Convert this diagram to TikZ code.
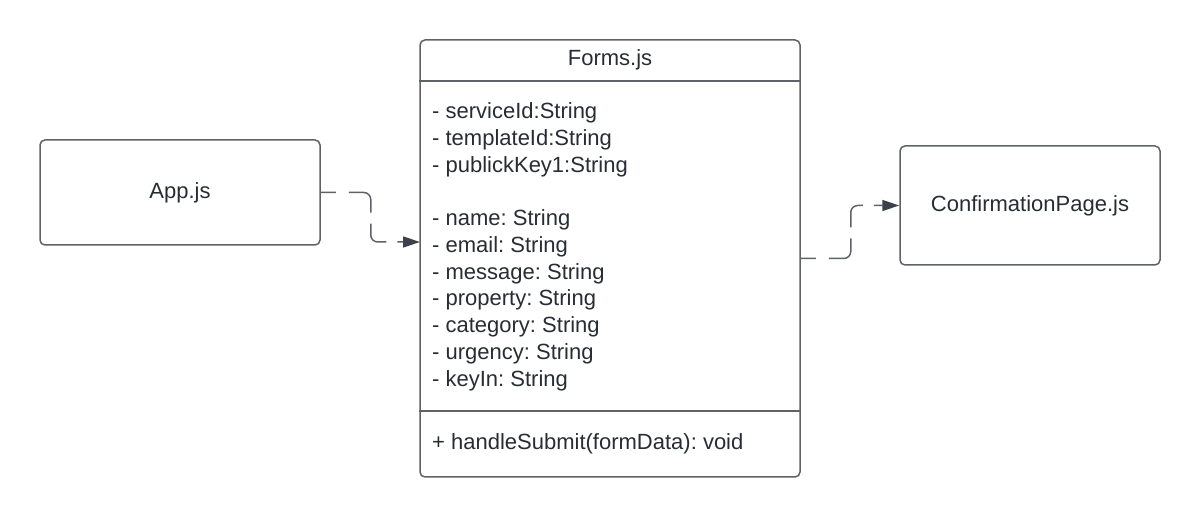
\documentclass[tikz,border=0pt]{standalone}
\usepackage{fontspec}
\setmainfont{Liberation Sans}
\usetikzlibrary{arrows.meta}

\definecolor{linegray}{HTML}{5F6369}
\definecolor{tipgray}{HTML}{3B424B}
\definecolor{textgray}{HTML}{282C33}

\tikzset{
	classbox/.style={draw=linegray, line width=1.5pt, rounded corners=5pt, text=textgray},
	member/.style={anchor=base west, inner sep=0pt, text=textgray},
	dep/.style={draw=linegray, line width=1.5pt, rounded corners=7pt,
		dash pattern=on 15pt off 13pt on 39pt off 11pt on 31pt off 11pt on 80pt off 1pt,
		-{Triangle[length=17pt, width=11pt, color=tipgray]}}
}

\begin{document}
\frenchspacing
\begin{tikzpicture}[x=1pt, y=-1pt, font=\fontsize{22}{26}\selectfont]
	\useasboundingbox (0,0) rectangle (1200,518);
	
	%left and right boxes
	\node[classbox, minimum width=280pt, minimum height=105pt] (app) at (180,192.5) {App.js};
	\node[classbox, minimum width=260pt, minimum height=119pt] (conf) at (1030,205.5) {ConfirmationPage.js};
	
	%the class
	\node[classbox, minimum width=380pt, minimum height=437pt] (forms) at (610,258.5) {};
	\node[anchor=base, inner sep=0pt, text=textgray] (title) at (610,66) {Forms.js};
	\draw[linegray, line width=1.5pt] ([yshift=-42pt]forms.north west) -- ([yshift=-42pt]forms.north east);
	\draw[linegray, line width=1.5pt] ([yshift=-372pt]forms.north west) -- ([yshift=-372pt]forms.north east);
	
	% attributes
	\foreach \y/\t [count=\i] in {119/serviceId:String, 146/templateId:String, 173/publickKey1:String,
		226/name: String, 253/email: String, 280/message: String, 306/property: String,
		333/category: String, 360/urgency: String, 387/keyIn: String}
	\node[member] (attr\i) at (432,\y) {- \t};
	
	% methods
	\node[member] (meth) at (432,450) {+ handleSubmit(formData): void};
	
	%dependencies
	\coordinate (in) at (420,242);
	\draw[dep] (app.east) -- ++(50,0) |- (in);
	\draw[dep] (forms.east) -- ++(50,0) |- (conf.west);
\end{tikzpicture}
\end{document}
